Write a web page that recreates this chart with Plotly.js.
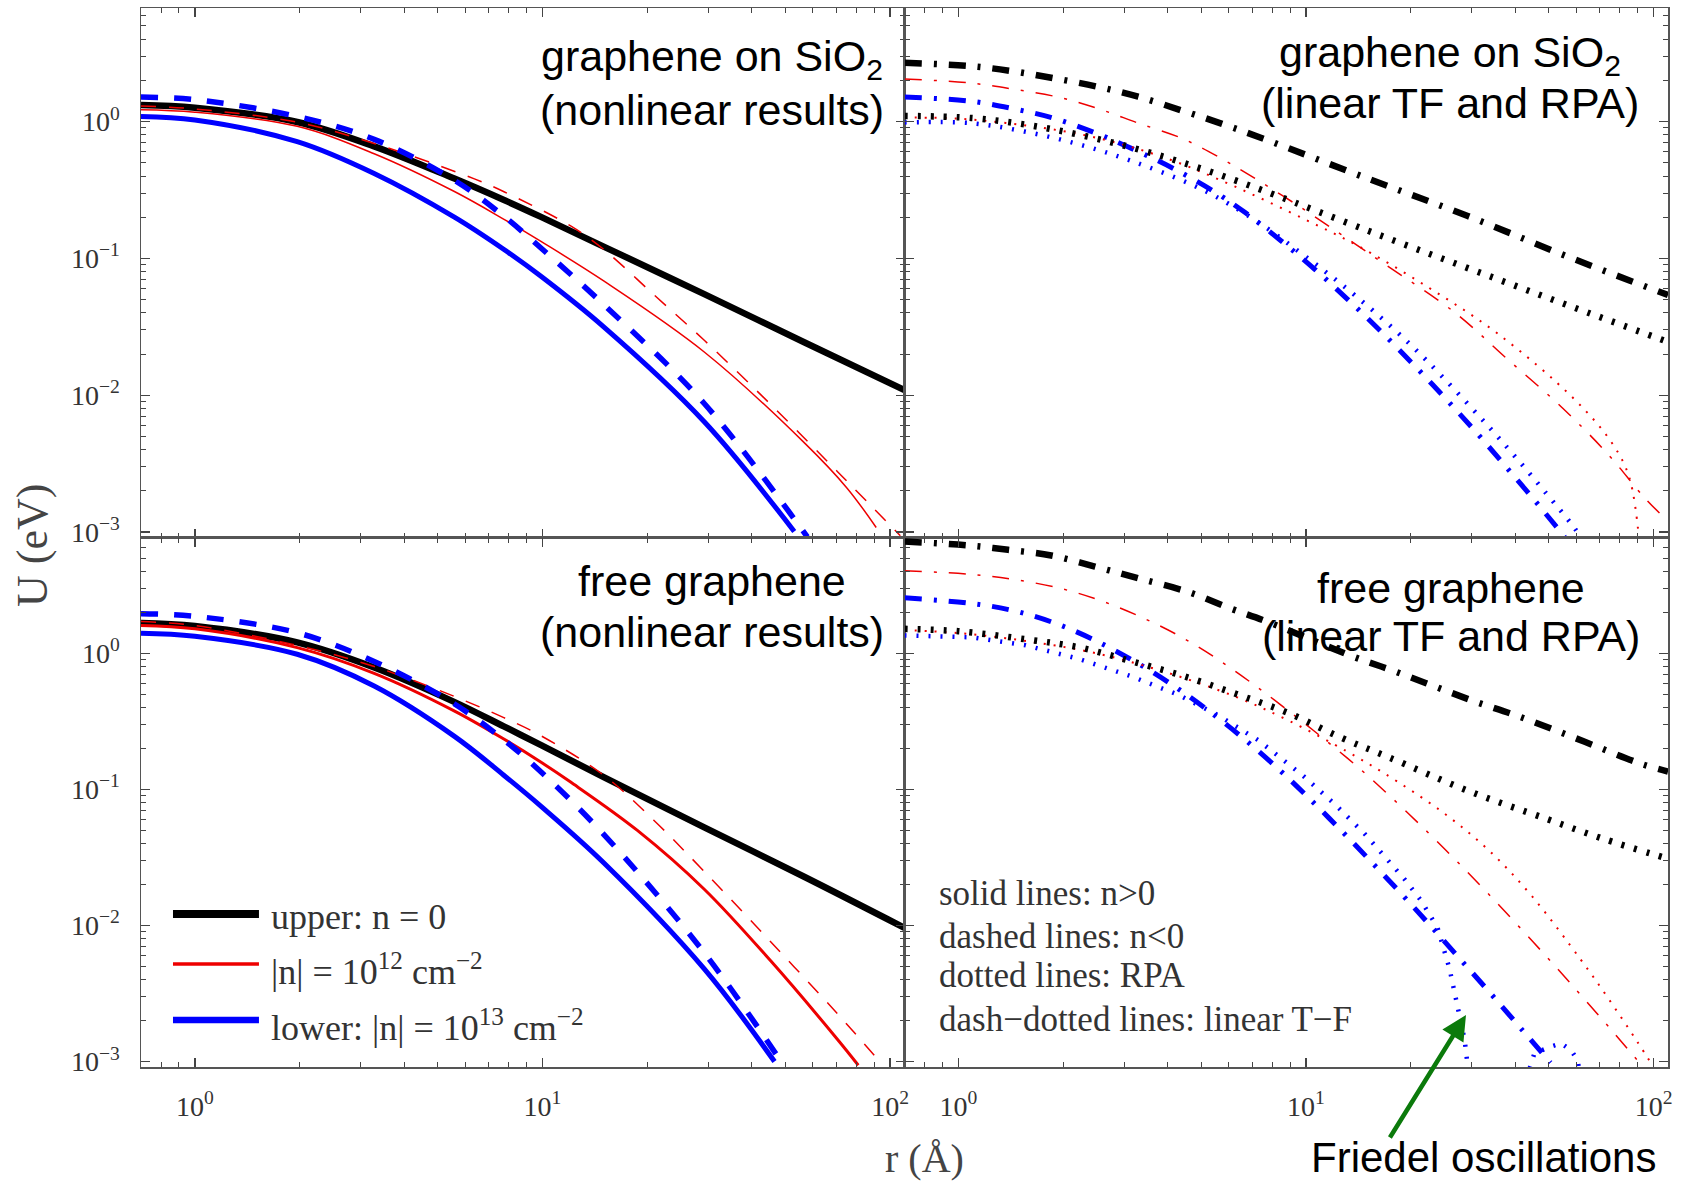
<!DOCTYPE html>
<html>
<head>
<meta charset="utf-8">
<script src="https://cdn.plot.ly/plotly-3.0.1.min.js"></script>
<style>
  html, body { margin: 0; padding: 0; background: #fff; }
  #plot { width: 1688px; height: 1187px; }
</style>
</head>
<body>
<div id="plot"></div>
<script>
// Screened potential U (eV) of a charged impurity versus distance r (Å).

// ---------- graphene on SiO2, nonlinear results ----------
const sio2Nl_n0_r  = [0.7, 1.0, 1.97, 3.28, 5.58, 7.75, 9.9, 15, 29.2, 56.6, 110];
const sio2Nl_n0_U  = [1.32, 1.26, 0.993, 0.659, 0.383, 0.267, 0.201, 0.122, 0.0548, 0.0244, 0.0109];
const sio2Nl_p12_r = [0.7, 1.0, 1.97, 3.28, 5.58, 7.75, 9.9, 15, 29.2, 56.6, 75, 91.2];
const sio2Nl_p12_U = [1.22, 1.17, 0.923, 0.582, 0.308, 0.193, 0.133, 0.0684, 0.0207, 0.0045, 0.00211, 0.00108];
const sio2Nl_m12_r = [0.7, 1.0, 1.97, 3.28, 6.37, 7.75, 12.05, 15, 20.9, 29.2, 45.4, 70.6, 107];
const sio2Nl_m12_U = [1.30, 1.236, 0.989, 0.692, 0.381, 0.307, 0.1726, 0.1164, 0.0543, 0.0252, 0.00853, 0.00276, 0.00094];
const sio2Nl_p13_r = [0.7, 1.0, 1.97, 3.28, 5.58, 7.75, 9.9, 15, 29.2, 53];
const sio2Nl_p13_U = [1.09, 1.028, 0.713, 0.417, 0.2, 0.116, 0.074, 0.0316, 0.0064, 0.00101];
const sio2Nl_m13_r = [0.7, 1.0, 1.97, 3.28, 5.58, 7.75, 9.9, 15, 29.2, 57.8];
const sio2Nl_m13_U = [1.51, 1.445, 1.089, 0.741, 0.372, 0.203, 0.119, 0.046, 0.0087, 0.00092];

// ---------- graphene on SiO2, linear Thomas-Fermi and RPA ----------
const sio2TF_n0_r  = [0.7, 1.09, 1.44, 1.89, 2.51, 3.29, 4.37, 5.71, 7.48, 15.1, 29.2, 56.6, 110];
const sio2TF_n0_U  = [2.69, 2.54, 2.33, 2.07, 1.80, 1.52, 1.21, 0.966, 0.755, 0.382, 0.204, 0.103, 0.054];
const sio2TF_12_r  = [0.7, 1.09, 1.45, 1.98, 2.58, 3.29, 4.39, 5.71, 7.28, 9.68, 12.6, 16.4, 26.7, 38.0, 54.2, 73.8, 94.2, 110];
const sio2TF_12_U  = [2.05, 1.91, 1.72, 1.49, 1.22, 0.975, 0.755, 0.537, 0.372, 0.235, 0.150, 0.095, 0.0405, 0.0183, 0.00824, 0.00372, 0.00178, 0.0012];
const sio2TF_13_r  = [0.7, 1.09, 1.45, 1.89, 2.49, 3.29, 4.29, 5.58, 6.67, 8.49, 10.6, 13.2, 16.4, 20.5, 25.0, 30.5, 37.2, 45.5, 55.5];
const sio2TF_13_U  = [1.51, 1.406, 1.236, 1.054, 0.822, 0.605, 0.435, 0.296, 0.217, 0.134, 0.0832, 0.05, 0.0294, 0.0165, 0.00966, 0.00555, 0.0031, 0.0017, 0.00092];
const sio2RPA_n0_r = [0.7, 1.09, 1.55, 2.21, 3.15, 4.39, 6.24, 8.11, 15.1, 29.2, 56.6, 110];
const sio2RPA_n0_U = [1.10, 1.062, 0.953, 0.804, 0.646, 0.504, 0.373, 0.292, 0.159, 0.0849, 0.0455, 0.0245];
const sio2RPA_12_r = [0.7, 1.0, 1.58, 2.51, 3.98, 6.31, 10, 13.9, 22.1, 35.6, 59.2, 75.9, 85.1, 91.2];
const sio2RPA_12_U = [1.07, 1.05, 0.933, 0.759, 0.537, 0.331, 0.191, 0.126, 0.0631, 0.0282, 0.00933, 0.00447, 0.00251, 0.00079];
const sio2RPA_13_r = [0.7, 1.09, 1.55, 2.21, 3.15, 4.68, 5.97, 7.6, 9.46, 11.6, 14.1, 17.9, 22.4, 32.6, 39.8, 48.5, 59.2, 61.5];
const sio2RPA_13_U = [0.986, 0.973, 0.845, 0.684, 0.515, 0.347, 0.252, 0.171, 0.114, 0.0769, 0.0515, 0.0304, 0.0176, 0.00638, 0.0036, 0.00199, 0.00107, 0.00092];

// ---------- free graphene, nonlinear results ----------
const freeNl_n0_r  = [0.7, 1.0, 1.97, 3.28, 5.57, 7.74, 9.91, 15, 29.2, 56.6, 110];
const freeNl_n0_U  = [1.67, 1.585, 1.2, 0.785, 0.439, 0.29, 0.211, 0.123, 0.0525, 0.0228, 0.0096];
const freeNl_p12_r = [0.7, 1.0, 1.97, 3.28, 5.57, 7.74, 9.91, 12.05, 18.75, 29.2, 45.4, 70.5, 81];
const freeNl_p12_U = [1.60, 1.51, 1.099, 0.711, 0.377, 0.234, 0.158, 0.113, 0.0499, 0.01845, 0.00547, 0.00146, 0.00094];
const freeNl_m12_r = [0.7, 1.0, 1.97, 3.28, 5.57, 7.74, 9.91, 15, 20.9, 29.2, 45.4, 70.5, 95];
const freeNl_m12_U = [1.71, 1.60, 1.14, 0.798, 0.482, 0.336, 0.247, 0.127, 0.0593, 0.0249, 0.00755, 0.00225, 0.00095];
const freeNl_p13_r = [0.7, 1.0, 1.97, 3.28, 5.57, 7.74, 9.91, 15, 29.2, 46.5];
const freeNl_p13_U = [1.40, 1.33, 0.982, 0.574, 0.246, 0.127, 0.075, 0.0289, 0.0048, 0.001];
const freeNl_m13_r = [0.7, 1.0, 1.97, 3.28, 5.57, 7.74, 9.91, 15, 29.2, 49.5];
const freeNl_m13_U = [1.95, 1.866, 1.413, 0.869, 0.425, 0.231, 0.134, 0.0467, 0.0063, 0.00093];

// ---------- free graphene, linear Thomas-Fermi and RPA ----------
const freeTF_n0_r  = [0.7, 1.07, 1.39, 1.85, 2.47, 3.29, 4.58, 6.10, 7.76, 13.5, 17.9, 23.4, 30.5, 39.8, 51.9, 69.0, 92.0, 110];
const freeTF_n0_U  = [6.61, 6.19, 5.75, 5.22, 4.33, 3.55, 2.82, 2.12, 1.70, 0.955, 0.74, 0.571, 0.443, 0.352, 0.273, 0.205, 0.154, 0.135];
const freeTF_12_r  = [0.7, 1.09, 1.45, 2.0, 2.63, 3.44, 4.39, 5.58, 7.28, 9.70, 11.3, 14.4, 17.9, 22.4, 27.3, 33.3, 41.6, 51.9, 63.2, 77.1, 93];
const freeTF_12_U  = [4.04, 3.79, 3.48, 2.96, 2.38, 1.79, 1.31, 0.90, 0.558, 0.318, 0.233, 0.139, 0.0838, 0.0484, 0.0292, 0.0173, 0.00942, 0.00507, 0.00288, 0.00161, 0.00092];
const freeTF_13_r  = [0.7, 1.09, 1.42, 1.85, 2.42, 3.21, 4.20, 5.47, 6.81, 8.49, 10.1, 12.5, 15.4, 18.8, 22.9, 27.9, 34.1, 41.6, 50.5];
const freeTF_13_U  = [2.55, 2.32, 2.07, 1.70, 1.276, 0.871, 0.568, 0.348, 0.222, 0.135, 0.0883, 0.0512, 0.0294, 0.0171, 0.00984, 0.00558, 0.00313, 0.00174, 0.00098];
const freeRPA_n0_r = [0.7, 1.0, 1.58, 2.24, 3.16, 4.47, 6.31, 8.91, 12.6, 17.2, 29.2, 49.5, 70.8, 110];
const freeRPA_n0_U = [1.51, 1.45, 1.26, 1.10, 0.871, 0.676, 0.501, 0.363, 0.24, 0.173, 0.0977, 0.0603, 0.0437, 0.0309];
const freeRPA_12_r = [0.7, 1.0, 1.58, 2.51, 3.98, 6.31, 8.87, 13.2, 16.8, 24.5, 33.3, 44.4, 61.8, 73.8, 89.9, 100];
const freeRPA_12_U = [1.48, 1.406, 1.225, 0.995, 0.721, 0.476, 0.322, 0.188, 0.131, 0.069, 0.0363, 0.0167, 0.00558, 0.00295, 0.00139, 0.00091];
// |U| with Friedel oscillations (gap where the potential changes sign)
const freeRPA_13_r = [0.7, 1.09, 1.55, 2.21, 3.15, 4.29, 5.58, 7.28, 9.77, 12.1, 14.7, 16.8, 19.2, 21.4, 23.9, 25.9, 27.4, 28.6, 29.2, 30.2, null, 41.0, 45.4, 50.7, 54.2, 57.9, 60.5, 63.0];
const freeRPA_13_U = [1.35, 1.309, 1.148, 0.912, 0.675, 0.495, 0.351, 0.23, 0.127, 0.0778, 0.0475, 0.0327, 0.0219, 0.0153, 0.00964, 0.00476, 0.0024, 0.00144, 0.00092, 0.0005, null, 0.0005, 0.00115, 0.00129, 0.00136, 0.00121, 0.00102, 0.0005];

// Axis tick labels
const xTickVals = [1, 10, 100];
const xTickText = ['10<sup>0</sup>', '10<sup>1</sup>', '10<sup>2</sup>'];
const yTickVals = [0.001, 0.01, 0.1, 1];
const yTickText = ['10<sup>−3</sup>', '10<sup>−2</sup>', '10<sup>−1</sup>', '10<sup>0</sup>'];

// ---------- styling ----------
const BLACK = '#000000', RED = '#ee0000', BLUE = '#0000ff';
const DASH = '17px,16px';
const RDASH = '15px,13px';
const DASHDOT = '17px,12px,3px,12px';

function curve(r, U, panel, color, width, dash, shape) {
  const s = panel === 1 ? '' : String(panel);
  return {
    type: 'scatter', mode: 'lines', x: r, y: U,
    xaxis: 'x' + s, yaxis: 'y' + s,
    line: { color: color, width: width, dash: dash || 'solid', shape: shape || 'spline', smoothing: 1.0 },
    connectgaps: false, hoverinfo: 'skip', showlegend: false
  };
}

const traces = [
  // panel 1: SiO2 nonlinear
  curve(sio2Nl_n0_r, sio2Nl_n0_U, 1, BLACK, 6.5),
  curve(sio2Nl_p12_r, sio2Nl_p12_U, 1, RED, 1.5),
  curve(sio2Nl_m12_r, sio2Nl_m12_U, 1, RED, 1.5, RDASH),
  curve(sio2Nl_p13_r, sio2Nl_p13_U, 1, BLUE, 5),
  curve(sio2Nl_m13_r, sio2Nl_m13_U, 1, BLUE, 5.5, DASH),
  // panel 2: SiO2 linear TF and RPA
  curve(sio2TF_n0_r, sio2TF_n0_U, 2, BLACK, 6.5, DASHDOT),
  curve(sio2TF_12_r, sio2TF_12_U, 2, RED, 1.5, DASHDOT),
  curve(sio2TF_13_r, sio2TF_13_U, 2, BLUE, 5, DASHDOT),
  curve(sio2RPA_13_r, sio2RPA_13_U, 2, BLUE, 4.5, '2px,10px'),
  curve(sio2RPA_12_r, sio2RPA_12_U, 2, RED, 2, '2px,8px'),
  curve(sio2RPA_n0_r, sio2RPA_n0_U, 2, BLACK, 6.5, '3px,10px'),
  // panel 3: free nonlinear
  curve(freeNl_n0_r, freeNl_n0_U, 3, BLACK, 6.5),
  curve(freeNl_p12_r, freeNl_p12_U, 3, RED, 3),
  curve(freeNl_m12_r, freeNl_m12_U, 3, RED, 1.5, RDASH),
  curve(freeNl_p13_r, freeNl_p13_U, 3, BLUE, 5),
  curve(freeNl_m13_r, freeNl_m13_U, 3, BLUE, 5.5, DASH),
  // panel 4: free linear TF and RPA
  curve(freeTF_n0_r, freeTF_n0_U, 4, BLACK, 6.5, DASHDOT),
  curve(freeTF_12_r, freeTF_12_U, 4, RED, 1.5, DASHDOT),
  curve(freeTF_13_r, freeTF_13_U, 4, BLUE, 5, DASHDOT),
  curve(freeRPA_13_r, freeRPA_13_U, 4, BLUE, 4.5, '2px,10px', 'linear'),
  curve(freeRPA_12_r, freeRPA_12_U, 4, RED, 2, '2px,8px'),
  curve(freeRPA_n0_r, freeRPA_n0_U, 4, BLACK, 6.5, '3px,10px')
];

const SERIF = 'Liberation Serif, Times New Roman, serif';
const SANS = 'Liberation Sans, Arial, sans-serif';

function logAxis(domain, anchor, range, vals, text, labels) {
  return {
    type: 'log', domain: domain, anchor: anchor, range: range,
    tickmode: 'array', tickvals: vals, ticktext: text, showticklabels: labels,
    showline: true, linecolor: '#555', linewidth: 1.5, mirror: 'allticks',
    ticks: 'inside', ticklen: 9, tickwidth: 1.3, tickcolor: '#444',
    minor: { ticks: 'inside', ticklen: 5, tickwidth: 1, tickcolor: '#444', dtick: 'D1', showgrid: false },
    showgrid: false, zeroline: false, fixedrange: true,
    ticklabelstandoff: 14,
    tickfont: { family: SERIF, size: 28, color: '#333' }
  };
}

const xRange = [Math.log10(0.7), Math.log10(110)];
const yTopRange = [-3.04, 0.83];
const yBotRange = [-3.04, 0.85];

const panelFont = { family: SANS, size: 43, color: '#000' };
const noteFont = { family: SERIF, size: 35, color: '#333' };
const legFont = { family: SERIF, size: 36, color: '#333' };

function label(xref, yref, x, y, text, font, xanchor) {
  return { xref: xref, yref: yref, x: x, y: y, text: text, showarrow: false,
           font: font, xanchor: xanchor || 'center', yanchor: 'middle' };
}

const annotations = [
  label('x domain', 'y domain', 0.748, 0.904, 'graphene on SiO<sub>2</sub>', panelFont),
  label('x domain', 'y domain', 0.748, 0.807, '(nonlinear results)', panelFont),
  label('x2 domain', 'y2 domain', 0.7145, 0.912, 'graphene on SiO<sub>2</sub>', panelFont),
  label('x2 domain', 'y2 domain', 0.7145, 0.8206, '(linear TF and RPA)', panelFont),
  label('x3 domain', 'y3 domain', 0.748, 0.918, 'free graphene', panelFont),
  label('x3 domain', 'y3 domain', 0.748, 0.8215, '(nonlinear results)', panelFont),
  label('x4 domain', 'y4 domain', 0.7158, 0.9046, 'free graphene', panelFont),
  label('x4 domain', 'y4 domain', 0.7158, 0.814, '(linear TF and RPA)', panelFont),

  label('x3 domain', 'y3 domain', 0.1676, 0.283, 'upper: n = 0', legFont, 'left'),
  label('x3 domain', 'y3 domain', 0.1676, 0.185, '|n| = 10<sup>12</sup> cm<sup>−2</sup>', legFont, 'left'),
  label('x3 domain', 'y3 domain', 0.1676, 0.079, 'lower: |n| = 10<sup>13</sup> cm<sup>−2</sup>', legFont, 'left'),

  label('x4 domain', 'y4 domain', 0.0426, 0.3286, 'solid lines: n&gt;0', noteFont, 'left'),
  label('x4 domain', 'y4 domain', 0.0426, 0.2474, 'dashed lines: n&lt;0', noteFont, 'left'),
  label('x4 domain', 'y4 domain', 0.0426, 0.1719, 'dotted lines: RPA', noteFont, 'left'),
  label('x4 domain', 'y4 domain', 0.0426, 0.0888, 'dash−dotted lines: linear T−F', noteFont, 'left'),

  { xref: 'paper', yref: 'paper', x: -0.0714, y: 0.4929, text: 'U (eV)', textangle: -90,
    showarrow: false, font: { family: SERIF, size: 44, color: '#444' }, xanchor: 'center', yanchor: 'middle' },
  { xref: 'paper', yref: 'paper', x: 0.5128, y: -0.086, text: 'r (Å)',
    showarrow: false, font: { family: SERIF, size: 40, color: '#444' }, xanchor: 'center', yanchor: 'middle' },

  { xref: 'paper', yref: 'paper', x: 0.8789, y: -0.085, text: 'Friedel oscillations',
    showarrow: false, font: { family: SANS, size: 42, color: '#000' }, xanchor: 'center', yanchor: 'middle' },
  { xref: 'x4 domain', yref: 'y4 domain', x: 0.7354, y: 0.0982, text: '',
    showarrow: true, ax: -77, ay: 124, arrowhead: 2, arrowsize: 1.1, arrowwidth: 4.5,
    arrowcolor: '#0b7a0b', standoff: 0 }
];

const shapes = [
  { type: 'line', xref: 'x3 domain', yref: 'y3 domain', x0: 0.0419, x1: 0.1545, y0: 0.289, y1: 0.289,
    line: { color: BLACK, width: 8 } },
  { type: 'line', xref: 'x3 domain', yref: 'y3 domain', x0: 0.0419, x1: 0.1545, y0: 0.1945, y1: 0.1945,
    line: { color: RED, width: 3.5 } },
  { type: 'line', xref: 'x3 domain', yref: 'y3 domain', x0: 0.0419, x1: 0.1545, y0: 0.0888, y1: 0.0888,
    line: { color: BLUE, width: 6.5 } }
];

const layout = {
  width: 1688, height: 1187,
  margin: { l: 141, r: 20, t: 8, b: 120, pad: 0 },
  paper_bgcolor: '#fff', plot_bgcolor: '#fff',
  showlegend: false,
  xaxis:  logAxis([0, 0.5], 'y',  xRange, xTickVals, xTickText, false),
  xaxis2: logAxis([0.5, 1], 'y2', xRange, xTickVals, xTickText, false),
  xaxis3: logAxis([0, 0.5], 'y3', xRange, xTickVals, xTickText, true),
  xaxis4: logAxis([0.5, 1], 'y4', xRange, xTickVals, xTickText, true),
  yaxis:  logAxis([0.5, 1], 'x',  yTopRange, yTickVals, yTickText, true),
  yaxis2: logAxis([0.5, 1], 'x2', yTopRange, yTickVals, yTickText, false),
  yaxis3: logAxis([0, 0.5], 'x3', yBotRange, yTickVals, yTickText, true),
  yaxis4: logAxis([0, 0.5], 'x4', yBotRange, yTickVals, yTickText, false),
  annotations: annotations,
  shapes: shapes
};

Plotly.newPlot('plot', traces, layout, { displayModeBar: false, staticPlot: true });
</script>
</body>
</html>
